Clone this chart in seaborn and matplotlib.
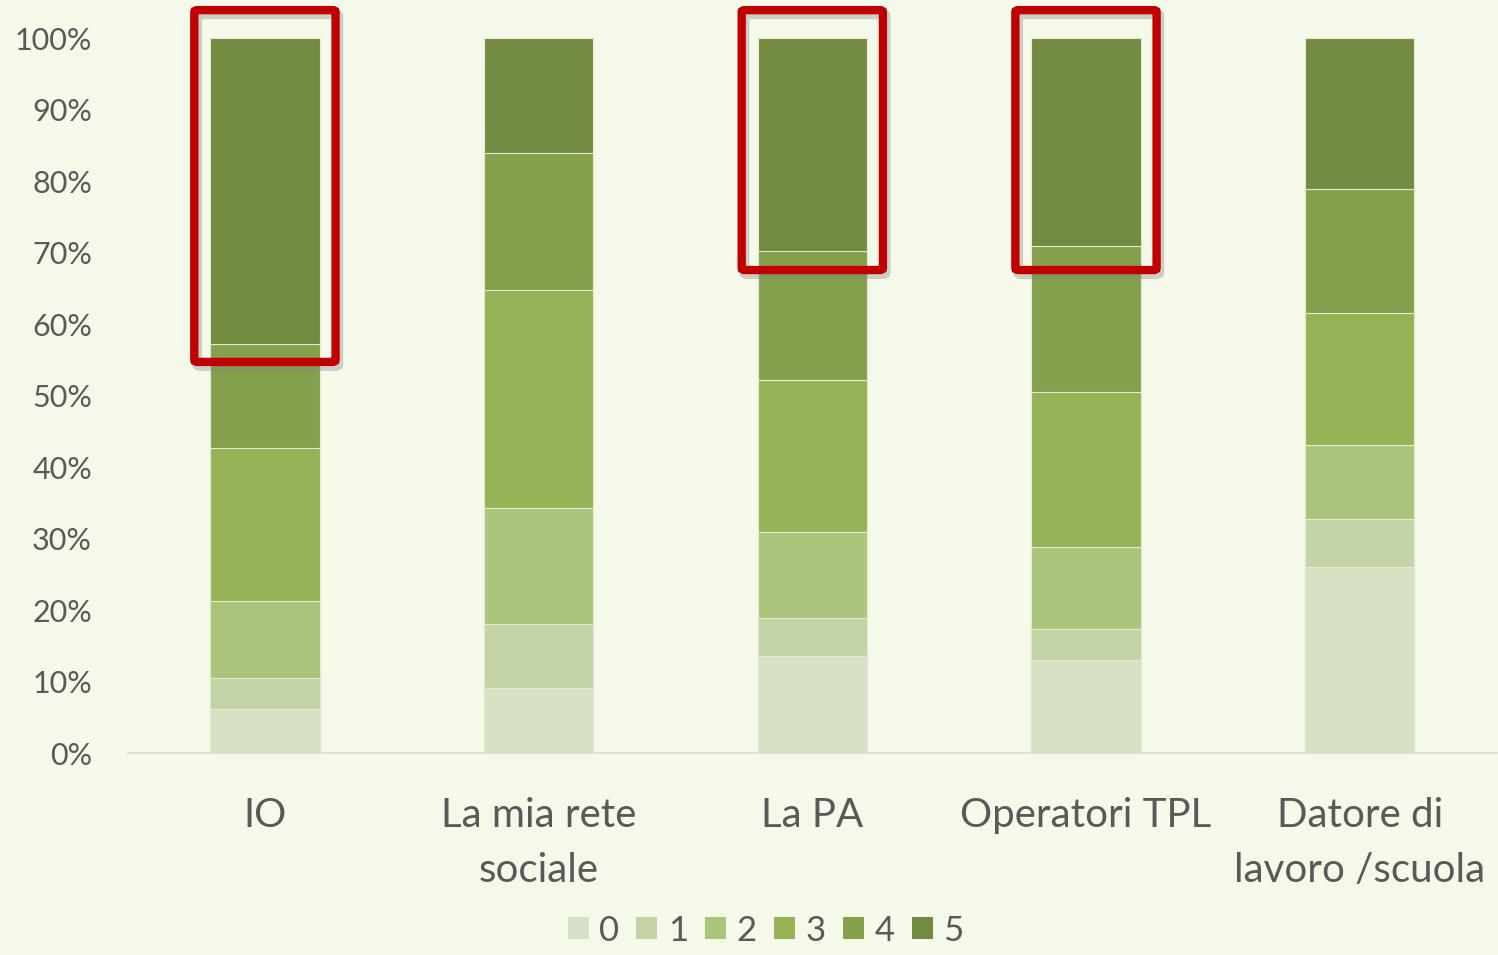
import matplotlib
matplotlib.use("Agg")
import matplotlib.pyplot as plt
from matplotlib.patches import FancyBboxPatch, Patch
from matplotlib.transforms import offset_copy
import numpy as np
import pandas as pd
import seaborn as sns

# Categories and the share of answers for each score (0..5), per category
categories = ["IO", "La mia rete\nsociale", "La PA", "Operatori TPL", "Datore di\nlavoro /scuola"]
score_labels = ["0", "1", "2", "3", "4", "5"]
score_0 = [6.2, 9.1, 13.6, 13.0, 26.0]
score_1 = [4.3, 8.9, 5.3, 4.3, 6.7]
score_2 = [10.8, 16.3, 12.0, 11.5, 10.4]
score_3 = [21.4, 30.5, 21.3, 21.7, 18.4]
score_4 = [14.5, 19.1, 18.0, 20.4, 17.4]
score_5 = [42.8, 16.1, 29.8, 29.1, 21.1]
highlighted = ["IO", "La PA", "Operatori TPL"]

palette = ["#D6E0C4", "#C2D3A5", "#AAC47B", "#96B257", "#85A04C", "#738B40"]
bg = "#F5F9EA"
text_col = "#595959"

sns.set_theme(style="white")
plt.rcParams["font.family"] = ["Lato", "DejaVu Sans"]

series = [score_0, score_1, score_2, score_3, score_4, score_5]
cum = np.cumsum(np.array(series), axis=0) / 100.0

fig = plt.figure(figsize=(14.98, 9.55), dpi=100, facecolor=bg)
ax = fig.add_axes([0.0855, 0.2115, 0.9135, 0.7487])
ax.set_facecolor(bg)

# stacked bars: draw cumulative totals from the top segment down
for i in range(len(series) - 1, -1, -1):
    df = pd.DataFrame({"cat": categories, "val": cum[i]})
    sns.barplot(data=df, x="cat", y="val", order=categories, color=palette[i],
                width=0.4, saturation=1, edgecolor="#E4EBD3", linewidth=0.8, ax=ax)

ax.set_xlim(-0.5, len(categories) - 0.5)
ax.set_ylim(0, 1.0)
ax.set_yticks(np.arange(0, 1.01, 0.1))
ax.set_yticklabels([f"{int(round(v * 100))}%" for v in np.arange(0, 1.01, 0.1)],
                   fontsize=22, color=text_col)
ax.set_xticks(range(len(categories)))
ax.set_xticklabels(categories, fontsize=29, color=text_col, linespacing=1.6)
ax.tick_params(axis="x", length=0, pad=32)
ax.tick_params(axis="y", length=0, pad=26)
ax.set_xlabel("")
ax.set_ylabel("")
for s in ["top", "right", "left"]:
    ax.spines[s].set_visible(False)
ax.spines["bottom"].set_color("#D9D9D9")
ax.spines["bottom"].set_linewidth(1.2)
ax.spines["bottom"].set_zorder(0)

# red frames (with a soft drop shadow) around the top segment of selected categories
shadow_tr = offset_copy(ax.transData, fig=fig, x=2, y=-3, units="points")
for name in highlighted:
    idx = categories.index(name)
    bottom = 0.547 if name == "IO" else 0.6755
    for tr, col, lw, alpha, z in [(shadow_tr, "#808080", 7, 0.35, 9), (ax.transData, "#C00000", 6, 1.0, 10)]:
        rect = FancyBboxPatch((idx - 0.258, bottom), 0.516, 1.039 - bottom,
                              boxstyle="round,pad=0,rounding_size=0.012",
                              fill=False, edgecolor=col, linewidth=lw, alpha=alpha,
                              clip_on=False, zorder=z, transform=tr,
                              mutation_aspect=1.0 / 5.0)
        ax.add_patch(rect)

handles = [Patch(facecolor=palette[i], edgecolor="none", label=score_labels[i])
           for i in range(len(score_labels))]
fig.legend(handles=handles, loc="lower center", bbox_to_anchor=(0.511, -0.024),
           ncol=6, frameon=False, fontsize=25, handlelength=0.6, handleheight=0.6,
           handletextpad=0.3, columnspacing=0.5, labelcolor=text_col)

fig.savefig("out.png", dpi=100, facecolor=bg)
